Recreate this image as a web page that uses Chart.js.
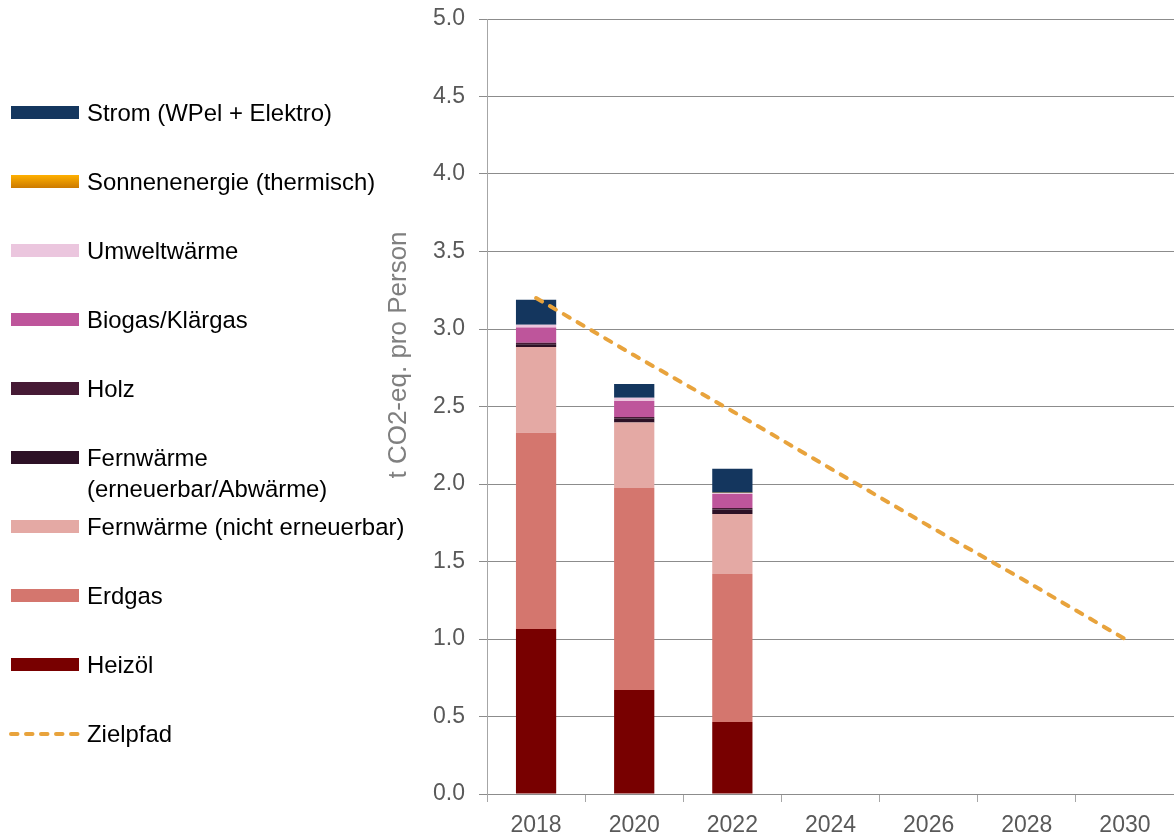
<!DOCTYPE html>
<html>
<head>
<meta charset="utf-8">
<script src="https://cdn.jsdelivr.net/npm/chart.js@4/dist/chart.umd.min.js"></script>
<style>
  html, body { margin: 0; padding: 0; background: #fff; }
  #wrap { position: relative; width: 1174px; height: 837px; overflow: hidden; }
  #chart { position: absolute; left: 0; top: 0; }
  #legend { position: absolute; left: 0; top: 0; font-family: "Liberation Sans", Arial, sans-serif; font-size: 23.9px; color: #000; }
  .item { position: absolute; left: 0; width: 420px; height: 31px; }
  .sw { position: absolute; left: 11px; top: 9px; width: 68px; height: 13px; }
  .txt { position: absolute; left: 87px; top: 0; line-height: 31px; white-space: nowrap; }
</style>
</head>
<body>
<div id="wrap">
  <canvas id="chart" width="1174" height="837"></canvas>
  <div id="legend"></div>
</div>
<script>
const years = ['2018', '2020', '2022', '2024', '2026', '2028', '2030'];

// t CO2-eq. pro Person, gelesen aus der Grafik
const heizoel   = [1.065, 0.671, 0.465];
const erdgas    = [1.265, 1.303, 0.954];
const fwNicht   = [0.554, 0.422, 0.387];
const fwEE      = [0.017, 0.026, 0.029];
const holz      = [0.010, 0.010, 0.010];
const biogas    = [0.099, 0.104, 0.091];
const umwelt    = [0.017, 0.021, 0.006];
const sonnen    = [0, 0, 0.002];
const strom     = [0.161, 0.088, 0.155];
const zielpfad  = [3.2, 2.83, 2.47, 2.1, 1.73, 1.37, 1.0];

const yTicks = [0, 0.5, 1.0, 1.5, 2.0, 2.5, 3.0, 3.5, 4.0, 4.5, 5.0];
const yTitle = 't CO2-eq. pro Person';

const font = '"Liberation Sans", Arial, sans-serif';

const bars = [
    { label: 'Heizöl', data: heizoel, color: '#780000' },
    { label: 'Erdgas', data: erdgas, color: '#D4766E' },
    { label: 'Fernwärme (nicht erneuerbar)', data: fwNicht, color: '#E4A9A4' },
    { label: 'Fernwärme\n(erneuerbar/Abwärme)', data: fwEE, color: '#2D1126' },
    { label: 'Holz', data: holz, color: '#461A35' },
    { label: 'Biogas/Klärgas', data: biogas, color: '#BE559B' },
    { label: 'Umweltwärme', data: umwelt, color: '#EBC6DE' },
    { label: 'Sonnenenergie (thermisch)', data: sonnen, color: '#F0A000' },
    { label: 'Strom (WPel + Elektro)', data: strom, color: '#14365E' },
];

const datasets = bars.map(b => ({
    type: 'bar',
    label: b.label,
    data: b.data,
    backgroundColor: b.color,
    borderWidth: 0,
    barPercentage: 0.41,
    categoryPercentage: 1,
    stack: 'energie',
    order: 1,
}));

datasets.push({
    type: 'line',
    label: 'Zielpfad',
    data: zielpfad,
    borderColor: '#E8A33C',
    borderWidth: 4,
    borderDash: [7, 9],
    borderCapStyle: 'round',
    pointRadius: 0,
    fill: false,
    tension: 0,
    stack: 'ziel',
    order: 0,
});

// Legende links (HTML), Reihenfolge wie im Original
const legend = document.getElementById('legend');
const legendItems = bars.slice().reverse().concat([{ label: 'Zielpfad', dashed: true }]);
legendItems.forEach((it, i) => {
    const row = document.createElement('div');
    row.className = 'item';
    row.style.top = (112 + i * 69.1 - 15.5) + 'px';
    if (it.dashed) {
        row.innerHTML = '<svg style="position:absolute;left:8px;top:13px" width="76" height="6">' +
            '<line x1="3" y1="3" x2="72" y2="3" stroke="#E8A33C" stroke-width="4" stroke-linecap="round" stroke-dasharray="6.5 8.5"/></svg>';
    } else {
        const sw = document.createElement('div');
        sw.className = 'sw';
        sw.style.background = it.label.startsWith('Sonnen')
            ? 'linear-gradient(#FFB000, #CC7A00)' : it.color;
        row.appendChild(sw);
    }
    const t = document.createElement('div');
    t.className = 'txt';
    t.innerHTML = it.label.replace('\n', '<br>');
    row.appendChild(t);
    legend.appendChild(row);
});

const yTitlePlugin = {
    id: 'yTitle',
    afterDraw(chart) {
        const ctx = chart.ctx;
        ctx.save();
        ctx.translate(chart.chartArea.left - 88, 355);
        ctx.rotate(-Math.PI / 2);
        ctx.font = '26px ' + font;
        ctx.fillStyle = '#7F7F7F';
        ctx.textAlign = 'center';
        ctx.textBaseline = 'middle';
        ctx.fillText(yTitle, 0, 0);
        ctx.restore();
    }
};

new Chart(document.getElementById('chart'), {
    data: { labels: years, datasets: datasets },
    plugins: [yTitlePlugin],
    options: {
        responsive: false,
        animation: false,
        devicePixelRatio: 1,
        layout: { padding: { left: 380, top: 19, right: 0, bottom: 0 } },
        plugins: { legend: { display: false }, tooltip: { enabled: false } },
        scales: {
            x: {
                stacked: true,
                offset: true,
                grid: { display: true, drawOnChartArea: false, offset: true, tickLength: 8, color: '#A6A6A6' },
                border: { color: '#8C8C8C', width: 1 },
                ticks: { color: '#595959', font: { family: font, size: 23 }, padding: 10, maxRotation: 0 },
                afterFit(scale) { scale.height = 43; }
            },
            y: {
                stacked: true,
                min: 0,
                max: 5,
                afterBuildTicks(scale) { scale.ticks = yTicks.map(v => ({ value: v })); },
                grid: { color: '#8C8C8C', tickLength: 8 },
                border: { color: '#A6A6A6', width: 1 },
                ticks: {
                    color: '#595959',
                    font: { family: font, size: 23 },
                    padding: 14,
                    callback: v => v.toFixed(1)
                },
                afterFit(scale) {
                    scale.width = 107;
                    scale.paddingTop = 0;
                    scale.paddingBottom = 0;
                }
            }
        }
    }
});
</script>
</body>
</html>
